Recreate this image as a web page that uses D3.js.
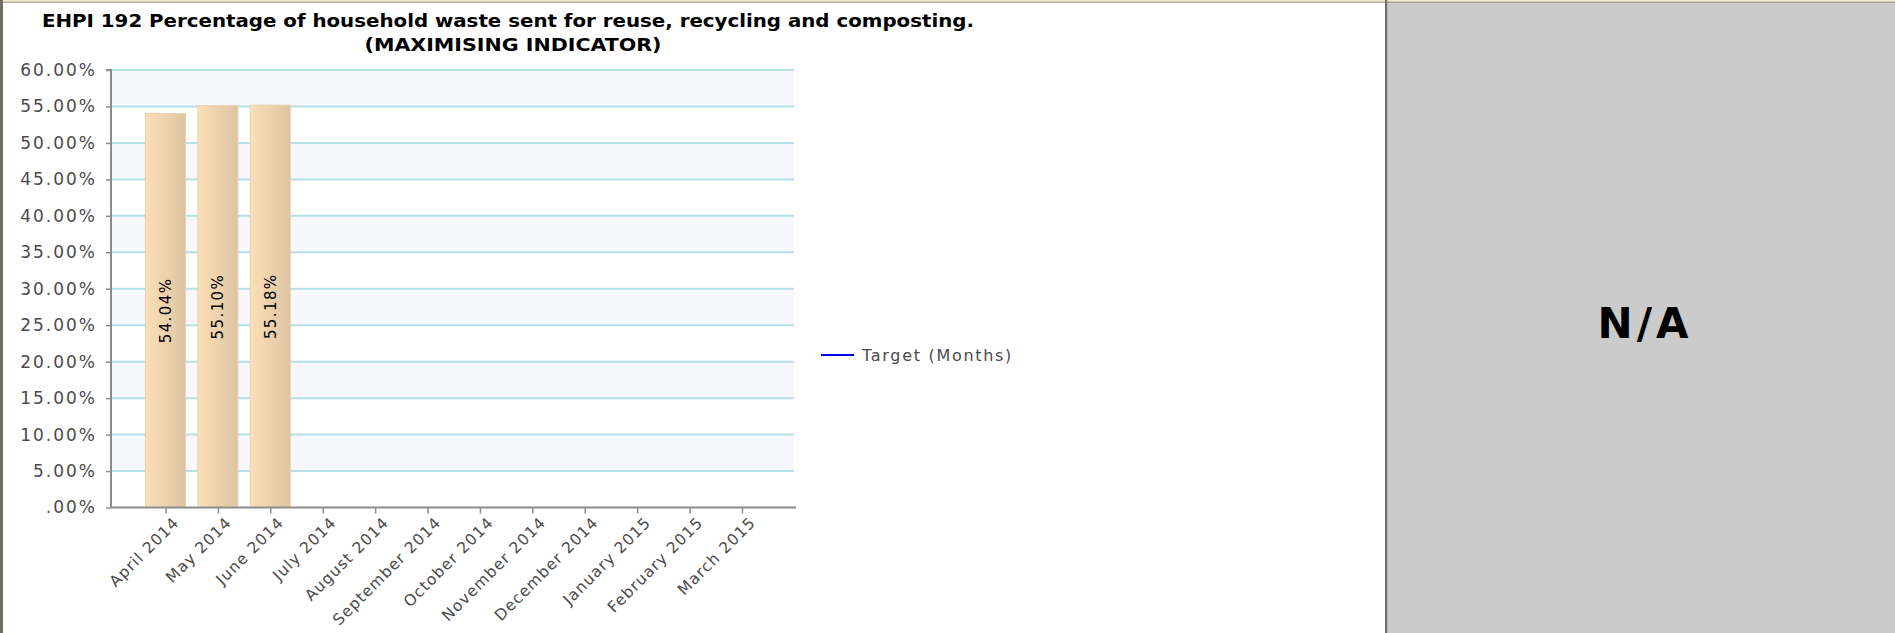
<!DOCTYPE html>
<html>
<head>
<meta charset="utf-8">
<script src="https://cdn.jsdelivr.net/npm/d3@7"></script>
<style>
  html, body { margin: 0; padding: 0; background: #ffffff; }
  svg { display: block; }
</style>
</head>
<body>
<svg id="chart" width="1895" height="633"></svg>
<script>
// ---- data ----
const categories = ["April 2014", "May 2014", "June 2014", "July 2014", "August 2014",
  "September 2014", "October 2014", "November 2014", "December 2014",
  "January 2015", "February 2015", "March 2015"];
const actualValues = [0.5404, 0.5510, 0.5518, null, null, null, null, null, null, null, null, null];
const barLabels = ["54.04%", "55.10%", "55.18%"];
const yTicks = [0, 0.05, 0.10, 0.15, 0.20, 0.25, 0.30, 0.35, 0.40, 0.45, 0.50, 0.55, 0.60];
const yTickLabels = [".00%", "5.00%", "10.00%", "15.00%", "20.00%", "25.00%", "30.00%",
  "35.00%", "40.00%", "45.00%", "50.00%", "55.00%", "60.00%"];
const titleLines = ["EHPI 192 Percentage of household waste sent for reuse, recycling and composting.",
  "(MAXIMISING INDICATOR)"];
const legendLabels = ["Target (Months)"];
const sideText = "N/A";

// ---- layout ----
const svg = d3.select("#chart");
const W = 1895, H = 633;
const plot = { left: 111, right: 796, top: 70, bottom: 507.5 };
const firstCenter = 165.5, lastCenter = 742;
const barWidth = 40;

// page frame
svg.append("rect").attr("x", 0).attr("y", 0).attr("width", W).attr("height", H).attr("fill", "#ffffff");
svg.append("rect").attr("x", 1387).attr("y", 2).attr("width", W - 1387).attr("height", H - 2).attr("fill", "#cbcbcb");
svg.append("rect").attr("x", 0).attr("y", 0).attr("width", W).attr("height", 1.6).attr("fill", "#f2efc8");
svg.append("rect").attr("x", 0).attr("y", 1.6).attr("width", W).attr("height", 1).attr("fill", "#8a8a78");
svg.append("rect").attr("x", 0).attr("y", 0).attr("width", 3).attr("height", H).attr("fill", "#6f6f63");
svg.append("rect").attr("x", 1385).attr("y", 0).attr("width", 2.2).attr("height", H).attr("fill", "#6f6f63");

// N/A
svg.append("text")
  .attr("x", 1645).attr("y", 338)
  .attr("text-anchor", "middle")
  .attr("font-family", "DejaVu Sans, Verdana, sans-serif")
  .attr("font-weight", "bold")
  .attr("font-size", 42)
  .attr("letter-spacing", 4)
  .attr("fill", "#000")
  .text(sideText);

// title
const titleG = svg.append("g");
titleG.append("text")
  .attr("x", 508).attr("y", 27)
  .attr("text-anchor", "middle")
  .attr("font-family", "DejaVu Sans Condensed, DejaVu Sans, sans-serif")
  .attr("font-weight", "bold").attr("font-size", 18)
  .attr("textLength", 932).attr("lengthAdjust", "spacingAndGlyphs")
  .attr("fill", "#000").text(titleLines[0]);
titleG.append("text")
  .attr("x", 513).attr("y", 51)
  .attr("text-anchor", "middle")
  .attr("font-family", "DejaVu Sans Condensed, DejaVu Sans, sans-serif")
  .attr("font-weight", "bold").attr("font-size", 18)
  .attr("textLength", 297).attr("lengthAdjust", "spacingAndGlyphs")
  .attr("fill", "#000").text(titleLines[1]);

// scales
const y = d3.scaleLinear().domain([0, 0.6]).range([plot.bottom, plot.top]);
const x = d3.scalePoint().domain(categories).range([firstCenter, lastCenter]);

// alternating bands
const bandPairs = d3.pairs(yTicks);
svg.append("g").selectAll("rect").data(bandPairs).join("rect")
  .attr("x", plot.left).attr("width", plot.right - plot.left - 2)
  .attr("y", d => y(d[1])).attr("height", d => y(d[0]) - y(d[1]))
  .attr("fill", (d, i) => (i % 2 === 1) ? "#f6f8fd" : "#ffffff");

// gridlines
svg.append("g").selectAll("line").data(yTicks.slice(1)).join("line")
  .attr("x1", plot.left).attr("x2", plot.right - 2)
  .attr("y1", d => y(d)).attr("y2", d => y(d))
  .attr("stroke", "#b4e0e8").attr("stroke-width", 2);

// bar gradient
const defs = svg.append("defs");
const grad = defs.append("linearGradient").attr("id", "barGrad")
  .attr("x1", "0%").attr("x2", "100%").attr("y1", "0%").attr("y2", "0%");
grad.append("stop").attr("offset", "0%").attr("stop-color", "#fbdfb8");
grad.append("stop").attr("offset", "100%").attr("stop-color", "#dec4a2");

const barData = categories.map((c, i) => ({ c, v: actualValues[i], label: barLabels[i] }))
  .filter(d => d.v != null);

svg.append("g").selectAll("rect").data(barData).join("rect")
  .attr("x", d => x(d.c) - barWidth / 2)
  .attr("width", barWidth)
  .attr("y", d => y(d.v))
  .attr("height", d => y(0) - y(d.v))
  .attr("fill", "url(#barGrad)")
  .attr("stroke", "#ecd0a8").attr("stroke-width", 1);

// bar value labels
svg.append("g").selectAll("text").data(barData).join("text")
  .attr("transform", d => `translate(${x(d.c)},${(y(d.v) + y(0)) / 2}) rotate(-90)`)
  .attr("text-anchor", "middle").attr("dy", "0.36em")
  .attr("font-family", "DejaVu Sans, Verdana, sans-serif")
  .attr("font-size", 15).attr("letter-spacing", 1.4)
  .attr("fill", "#000")
  .text(d => d.label);

// y axis
const yAxis = d3.axisLeft(y).tickValues(yTicks).tickSize(5).tickPadding(9)
  .tickFormat((d, i) => yTickLabels[i]);
const yAxisG = svg.append("g").attr("transform", `translate(${plot.left},0)`).call(yAxis);
yAxisG.select(".domain").attr("stroke", "#8c8c8c").attr("stroke-width", 2)
  .attr("d", `M-5,${plot.top}H0V${plot.bottom}`);
yAxisG.selectAll(".tick line").attr("stroke", "#8c8c8c").attr("stroke-width", 1.5);
yAxisG.selectAll(".tick text")
  .attr("font-family", "DejaVu Sans, Verdana, sans-serif")
  .attr("font-size", 17).attr("letter-spacing", 2)
  .attr("fill", "#4a4a4a");

// x axis
const xAxis = d3.axisBottom(x).tickSize(6).tickPadding(4);
const xAxisG = svg.append("g").attr("transform", `translate(0,${plot.bottom})`).call(xAxis);
xAxisG.select(".domain").attr("stroke", "#8c8c8c").attr("stroke-width", 2)
  .attr("d", `M${plot.left},0H${plot.right}`);
xAxisG.selectAll(".tick line").attr("stroke", "#8c8c8c").attr("stroke-width", 1.5);
xAxisG.selectAll(".tick text")
  .attr("font-family", "DejaVu Sans, Verdana, sans-serif")
  .attr("font-size", 15.5).attr("letter-spacing", 1.1)
  .attr("fill", "#4a4a4a")
  .attr("text-anchor", "end")
  .attr("dy", 0)
  .attr("transform", "translate(14,16) rotate(-45)")
  .attr("y", 0).attr("x", 0);

// legend
const legend = svg.append("g").attr("transform", "translate(821,355)");
legend.append("line").attr("x1", 0).attr("x2", 33).attr("y1", 0).attr("y2", 0)
  .attr("stroke", "#0000ee").attr("stroke-width", 2);
legend.append("text").attr("x", 41).attr("y", 6)
  .attr("font-family", "DejaVu Sans, Verdana, sans-serif")
  .attr("font-size", 16).attr("letter-spacing", 1.7)
  .attr("fill", "#4a4a4a").text(legendLabels[0]);
</script>
</body>
</html>
